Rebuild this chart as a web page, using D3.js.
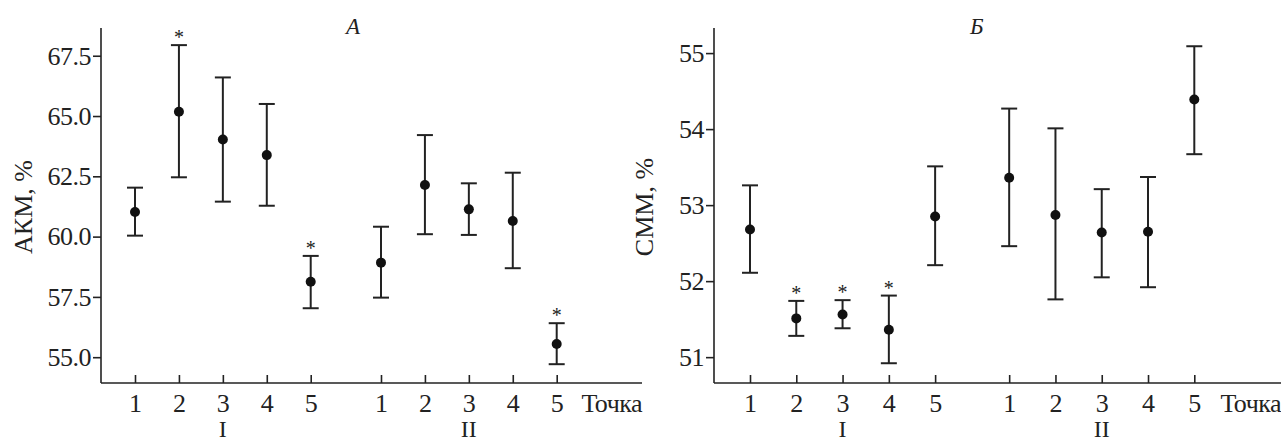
<!DOCTYPE html>
<html>
<head>
	<meta http-equiv="Content-Type" content="text/html; charset=utf-8">
	<title>АКМ и СММ по точкам</title>
	<script type="text/javascript" src="https://cdn.jsdelivr.net/npm/d3@7"></script>
	<style>
		body { margin: 0; background: #fff; }
		svg text { font-family: "Liberation Serif", "Times New Roman", Times, serif; fill: #222; }
	</style>
</head>
<body>
<script type="text/javascript">

// sample points, two groups of five
var pointLabels = ["1", "2", "3", "4", "5", "1", "2", "3", "4", "5"];
var pointPos = [1, 2, 3, 4, 5, 6.6, 7.6, 8.6, 9.6, 10.6];
var groupLabels = ["I", "II"];
var groupCenter = [3, 8.6];

// panel A: АКМ, %
var akmMean = [61.02, 65.18, 64.03, 63.38, 58.13, 58.92, 62.14, 61.13, 60.65, 55.55];
var akmHigh = [62.03, 67.94, 66.60, 65.50, 59.20, 60.41, 64.21, 62.21, 62.65, 56.41];
var akmLow  = [60.04, 62.46, 61.45, 61.28, 57.03, 57.47, 60.10, 60.07, 58.69, 54.71];
var akmStar = [false, true, false, false, true, false, false, false, false, true];
var akmTicks = [55, 57.5, 60, 62.5, 65, 67.5];

// panel Б: СММ, %
var cmmMean = [52.68, 51.51, 51.56, 51.36, 52.85, 53.36, 52.87, 52.64, 52.65, 54.39];
var cmmHigh = [53.26, 51.74, 51.75, 51.81, 53.51, 54.27, 54.01, 53.21, 53.37, 55.09];
var cmmLow  = [52.11, 51.28, 51.38, 50.92, 52.21, 52.46, 51.76, 52.05, 51.92, 53.67];
var cmmStar = [false, true, true, true, false, false, false, false, false, false];
var cmmTicks = [51, 52, 53, 54, 55];

var FONT = "'Liberation Serif', 'Times New Roman', Times, serif";

var svg = d3.select("body").append("svg")
	.attr("width", 1281)
	.attr("height", 443);

function drawPanel(opt) {
	var g = svg.append("g");

	var x = d3.scaleLinear().domain([1, 10.6]).range(opt.xRange);
	var y = d3.scaleLinear().domain(opt.yDomain).range([383, 28]);

	// axis lines
	g.append("line")
		.attr("x1", opt.axisX).attr("x2", opt.axisX)
		.attr("y1", 28).attr("y2", 383)
		.attr("stroke", "#222").attr("stroke-width", 1.6);
	g.append("line")
		.attr("x1", opt.axisX).attr("x2", opt.axisEnd)
		.attr("y1", 383).attr("y2", 383)
		.attr("stroke", "#222").attr("stroke-width", 1.6);

	var yAxis = g.append("g")
		.attr("transform", "translate(" + opt.axisX + ",0)")
		.call(d3.axisLeft(y).tickValues(opt.ticks).tickFormat(d3.format(opt.fmt))
			.tickSizeOuter(0).tickSize(8).tickPadding(2));
	yAxis.attr("font-family", FONT);
	yAxis.select(".domain").remove();
	yAxis.selectAll("line").attr("stroke", "#222").attr("stroke-width", 1.6);
	yAxis.selectAll("text").attr("font-size", "26px").attr("fill", "#222")
		.attr("letter-spacing", "-0.5px");

	var xAxis = g.append("g")
		.attr("transform", "translate(0,383)")
		.call(d3.axisBottom(x).tickValues(pointPos)
			.tickFormat(function (d, i) { return pointLabels[i]; })
			.tickSizeOuter(0).tickSize(-8).tickPadding(11));
	xAxis.attr("font-family", FONT);
	xAxis.select(".domain").remove();
	xAxis.selectAll("line").attr("stroke", "#222").attr("stroke-width", 1.6);
	xAxis.selectAll("text").attr("font-size", "26px").attr("fill", "#222");

	g.append("text")
		.text("Точка")
		.attr("x", opt.axisEnd)
		.attr("y", 412)
		.attr("text-anchor", "end")
		.attr("letter-spacing", "-0.5px")
		.attr("font-size", "26px");

	g.selectAll(".grp")
		.data(groupLabels)
		.enter()
		.append("text")
		.attr("x", function (d, i) { return x(groupCenter[i]); })
		.attr("y", 437)
		.attr("text-anchor", "middle")
		.attr("font-size", "24px")
		.text(function (d) { return d; });

	// y title, rotated
	g.append("text")
		.text(opt.title)
		.attr("transform", "translate(" + opt.titleX + ",207) rotate(-90)")
		.attr("text-anchor", "middle")
		.attr("font-size", "26px");

	// panel letter
	g.append("text")
		.text(opt.letter)
		.attr("x", opt.letterX)
		.attr("y", 34)
		.attr("font-style", "italic")
		.attr("font-size", "23px");

	var rows = opt.mean.map(function (m, i) {
		return {pos: pointPos[i], mean: m, hi: opt.high[i], lo: opt.low[i], star: opt.star[i]};
	});

	var bars = g.selectAll(".bar")
		.data(rows)
		.enter()
		.append("g");

	bars.append("line")
		.attr("x1", function (d) { return x(d.pos); })
		.attr("x2", function (d) { return x(d.pos); })
		.attr("y1", function (d) { return y(d.hi); })
		.attr("y2", function (d) { return y(d.lo); })
		.attr("stroke", "#222").attr("stroke-width", 2);
	bars.append("line")
		.attr("x1", function (d) { return x(d.pos) - 8; })
		.attr("x2", function (d) { return x(d.pos) + 8; })
		.attr("y1", function (d) { return y(d.hi); })
		.attr("y2", function (d) { return y(d.hi); })
		.attr("stroke", "#222").attr("stroke-width", 2);
	bars.append("line")
		.attr("x1", function (d) { return x(d.pos) - 8; })
		.attr("x2", function (d) { return x(d.pos) + 8; })
		.attr("y1", function (d) { return y(d.lo); })
		.attr("y2", function (d) { return y(d.lo); })
		.attr("stroke", "#222").attr("stroke-width", 2);
	bars.append("circle")
		.attr("cx", function (d) { return x(d.pos); })
		.attr("cy", function (d) { return y(d.mean); })
		.attr("r", 5)
		.attr("fill", "#111");

	bars.filter(function (d) { return d.star; })
		.append("text")
		.text("*")
		.attr("x", function (d) { return x(d.pos); })
		.attr("y", function (d) { return y(d.hi) - 1; })
		.attr("text-anchor", "middle")
		.attr("font-size", "20px");
}

drawPanel({
	xRange: [135, 556.7], axisX: 101, axisEnd: 642,
	yDomain: [53.93, 68.65], ticks: akmTicks, fmt: ".1f",
	mean: akmMean, high: akmHigh, low: akmLow, star: akmStar,
	title: "АКМ, %", titleX: 32, letter: "А", letterX: 346
});

drawPanel({
	xRange: [750, 1194.3], axisX: 714, axisEnd: 1281,
	yDomain: [50.66, 55.33], ticks: cmmTicks, fmt: "d",
	mean: cmmMean, high: cmmHigh, low: cmmLow, star: cmmStar,
	title: "СММ, %", titleX: 653, letter: "Б", letterX: 970
});

</script>
</body>
</html>
